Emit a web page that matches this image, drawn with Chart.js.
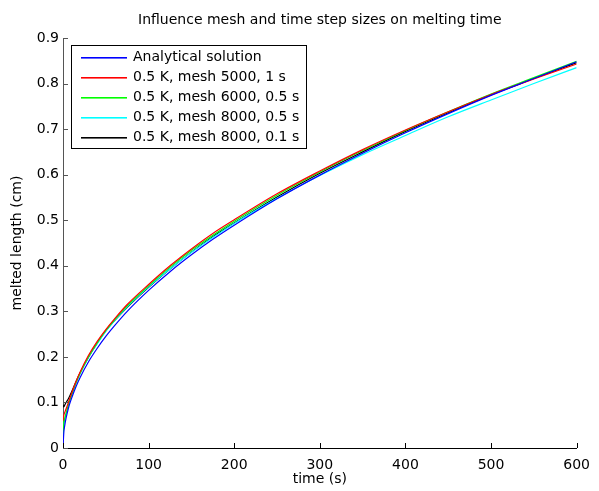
<!DOCTYPE html>
<html>
<head>
<meta charset="utf-8">
<script src="https://cdn.jsdelivr.net/npm/chart.js@4/dist/chart.umd.min.js"></script>
<style>
  html, body { margin: 0; padding: 0; background: #fff; }
  #wrap { width: 599px; height: 491px; }
</style>
</head>
<body>
<div id="wrap"><canvas id="chart"></canvas></div>
<script>
// time points (s)
const times = [0, 1, 2, 3, 5, 7, 10, 15, 20, 30, 40, 50, 60, 75, 100, 125, 150, 175, 200, 250, 300, 350, 400, 450, 500, 550, 600];

// melted length (cm)
const analytical = [0, 0.035, 0.049, 0.060, 0.077, 0.092, 0.109, 0.134, 0.155, 0.190, 0.219, 0.245, 0.268, 0.300, 0.346, 0.387, 0.424, 0.458, 0.489, 0.547, 0.599, 0.647, 0.692, 0.734, 0.774, 0.811, 0.848];
const mesh5000 = [0.060, 0.072, 0.078, 0.083, 0.093, 0.104, 0.120, 0.145, 0.167, 0.204, 0.234, 0.260, 0.283, 0.315, 0.359, 0.400, 0.437, 0.471, 0.501, 0.558, 0.608, 0.655, 0.698, 0.738, 0.776, 0.810, 0.843];
const mesh6000 = [0.030, 0.055, 0.065, 0.072, 0.086, 0.099, 0.116, 0.142, 0.164, 0.201, 0.231, 0.258, 0.281, 0.312, 0.356, 0.397, 0.434, 0.467, 0.498, 0.555, 0.606, 0.653, 0.697, 0.738, 0.777, 0.813, 0.849];
const mesh8000a = [0.025, 0.050, 0.062, 0.070, 0.084, 0.097, 0.115, 0.141, 0.163, 0.200, 0.229, 0.256, 0.279, 0.310, 0.354, 0.393, 0.429, 0.462, 0.493, 0.548, 0.598, 0.644, 0.686, 0.727, 0.764, 0.800, 0.835];
const mesh8000b = [0.095, 0.090, 0.094, 0.098, 0.104, 0.111, 0.123, 0.145, 0.165, 0.200, 0.230, 0.257, 0.279, 0.309, 0.353, 0.393, 0.430, 0.464, 0.494, 0.551, 0.603, 0.650, 0.695, 0.736, 0.775, 0.811, 0.846];

const seriesLabels = [
  "Analytical solution",
  "0.5 K, mesh 5000, 1 s",
  "0.5 K, mesh 6000, 0.5 s",
  "0.5 K, mesh 8000, 0.5 s",
  "0.5 K, mesh 8000, 0.1 s"
];
const seriesColors = ["#0000ff", "#ff0000", "#00ff00", "#00ffff", "#000000"];
const seriesValues = [analytical, mesh5000, mesh6000, mesh8000a, mesh8000b];

const xTicks = [0, 100, 200, 300, 400, 500, 600];
const yTicks = [0, 0.1, 0.2, 0.3, 0.4, 0.5, 0.6, 0.7, 0.8, 0.9];

const FONT = "'DejaVu Sans', sans-serif";

const datasets = seriesValues.map((vals, i) => ({
  label: seriesLabels[i],
  data: times.map((t, j) => ({ x: t, y: vals[j] })),
  borderColor: seriesColors[i],
  borderWidth: 1.2,
  pointRadius: 0,
  fill: false,
  cubicInterpolationMode: "monotone",
}));

// MATLAB-like extras: inward ticks, title, legend box in the corner
const matlabPlugin = {
  id: "matlab",
  afterDraw(chart) {
    const ctx = chart.ctx;
    const { left, right, top, bottom } = chart.chartArea;
    const xs = chart.scales.x, ys = chart.scales.y;
    ctx.save();

    // inward tick marks
    ctx.lineWidth = 1;
    ctx.strokeStyle = "#000";
    xTicks.forEach((v) => {
      const px = Math.round(xs.getPixelForValue(v)) + 0.5;
      ctx.beginPath();
      ctx.moveTo(px, bottom);
      ctx.lineTo(px, bottom - 5);
      ctx.stroke();
    });
    ctx.strokeStyle = "#555";
    yTicks.forEach((v) => {
      const py = Math.round(ys.getPixelForValue(v)) + 0.5;
      ctx.beginPath();
      ctx.moveTo(left, py);
      ctx.lineTo(left + 5, py);
      ctx.stroke();
    });

    // title
    ctx.fillStyle = "#000";
    ctx.font = "14px " + FONT;
    ctx.textAlign = "center";
    ctx.textBaseline = "middle";
    ctx.fillText("Influence mesh and time step sizes on melting time", (left + right) / 2, 20);

    // legend
    const bx = 71.5, by = 45.5, bw = 235, bh = 103;
    ctx.fillStyle = "#fff";
    ctx.fillRect(bx, by, bw, bh);
    ctx.lineWidth = 1;
    ctx.strokeStyle = "#000";
    ctx.strokeRect(bx, by, bw, bh);
    ctx.font = "14px " + FONT;
    ctx.textAlign = "left";
    seriesLabels.forEach((label, i) => {
      const ry = 58 + i * 20;
      ctx.fillStyle = seriesColors[i];
      ctx.fillRect(81, ry - 1, 46, 1.6);
      ctx.fillStyle = "#000";
      ctx.fillText(label, 133, ry - 0.5);
    });
    ctx.restore();
  },
};

new Chart(document.getElementById("chart"), {
  type: "line",
  data: { datasets },
  options: {
    responsive: true,
    maintainAspectRatio: false,
    animation: false,
    layout: { padding: { top: 38, right: 15, left: 0, bottom: 0 } },
    plugins: {
      legend: { display: false },
      tooltip: { enabled: false },
    },
    scales: {
      x: {
        type: "linear",
        min: 0,
        max: 600,
        afterFit: (s) => { s.height = 43; },
        afterBuildTicks: (s) => { s.ticks = xTicks.map((v) => ({ value: v })); },
        grid: { display: false, drawTicks: false },
        border: { display: true, color: "#000", width: 1 },
        ticks: { color: "#000", font: { family: FONT, size: 14 }, padding: 9, maxRotation: 0 },
        title: { display: true, text: "time (s)", color: "#000", font: { family: FONT, size: 14 }, padding: { top: 0, bottom: 3 } },
      },
      y: {
        type: "linear",
        min: 0,
        max: 0.9,
        afterFit: (s) => { s.width = 63; },
        afterBuildTicks: (s) => { s.ticks = yTicks.map((v) => ({ value: v })); },
        grid: { display: false, drawTicks: false },
        border: { display: true, color: "#555", width: 1 },
        ticks: { color: "#000", font: { family: FONT, size: 14 }, padding: 4, callback: (v) => String(v) },
        title: { display: true, text: "melted length (cm)", color: "#000", font: { family: FONT, size: 14 }, padding: { top: 9, bottom: 0 } },
      },
    },
  },
  plugins: [matlabPlugin],
});
</script>
</body>
</html>
